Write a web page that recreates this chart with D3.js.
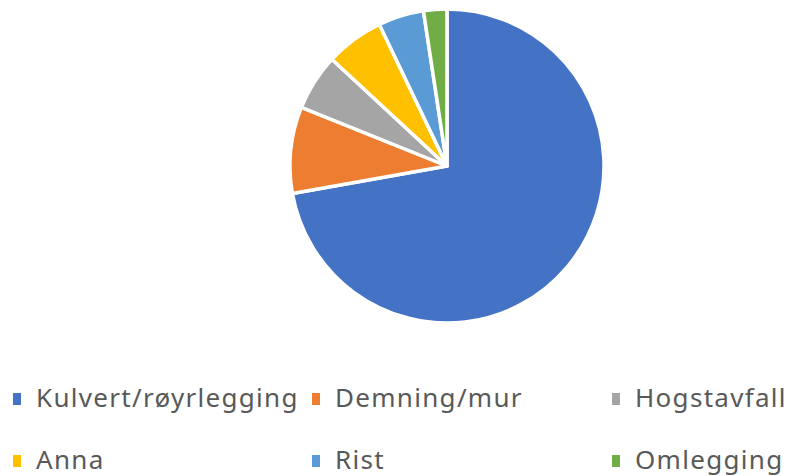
<!DOCTYPE html>
<html>
<head>
<meta charset="utf-8">
<script src="https://cdn.jsdelivr.net/npm/d3@7"></script>
<style>
  html, body { margin: 0; padding: 0; background: #fff; }
  svg { display: block; }
</style>
</head>
<body>
<div id="chart"></div>
<script>
  //////////////////////////////// Data ////////////////////////////////
  var categories = ["Kulvert/røyrlegging", "Demning/mur", "Hogstavfall", "Anna", "Rist", "Omlegging"]
  var values = [72.2, 8.9, 5.8, 6.0, 4.7, 2.4]
  var colors = ["#4472C4", "#ED7D31", "#A5A5A5", "#FFC000", "#5B9BD5", "#70AD47"]

  //////////////////////////////// Setup ////////////////////////////////
  var width = 789, height = 476
  var cx = 447, cy = 166, radius = 157

  var svg = d3.select("#chart").append("svg")
    .attr("width", width)
    .attr("height", height)

  var colorScale = d3.scaleOrdinal()
    .domain(categories)
    .range(colors)

  var pie = d3.pie().sort(null).value(d => d.value)
  var arc = d3.arc().innerRadius(0).outerRadius(radius)

  var data = categories.map((c, i) => ({ name: c, value: values[i] }))

  var g = svg.append("g")
    .attr("transform", "translate(" + cx + "," + cy + ")")

  g.selectAll("path")
    .data(pie(data))
    .enter()
    .append("path")
    .attr("d", arc)
    .attr("fill", d => colorScale(d.data.name))
    .attr("stroke", "#fff")
    .attr("stroke-width", 3.5)
    .attr("stroke-linejoin", "round")

  //////////////////////////////// Legend ////////////////////////////////
  var colX = [13, 312, 612]
  var rowY = [407, 469]

  var legend = svg.append("g")
  var items = legend.selectAll("g")
    .data(categories)
    .enter()
    .append("g")
    .attr("transform", (d, i) => "translate(" + colX[i % 3] + "," + rowY[Math.floor(i / 3)] + ")")

  items.append("rect")
    .attr("x", 0)
    .attr("y", -14)
    .attr("width", 8)
    .attr("height", 12)
    .attr("fill", d => colorScale(d))

  items.append("text")
    .attr("x", 23)
    .attr("y", 0)
    .attr("font-family", "Noto Sans, sans-serif")
    .attr("font-size", 26)
    .attr("letter-spacing", 1.3)
    .attr("fill", "#595959")
    .text(d => d)
</script>
</body>
</html>
